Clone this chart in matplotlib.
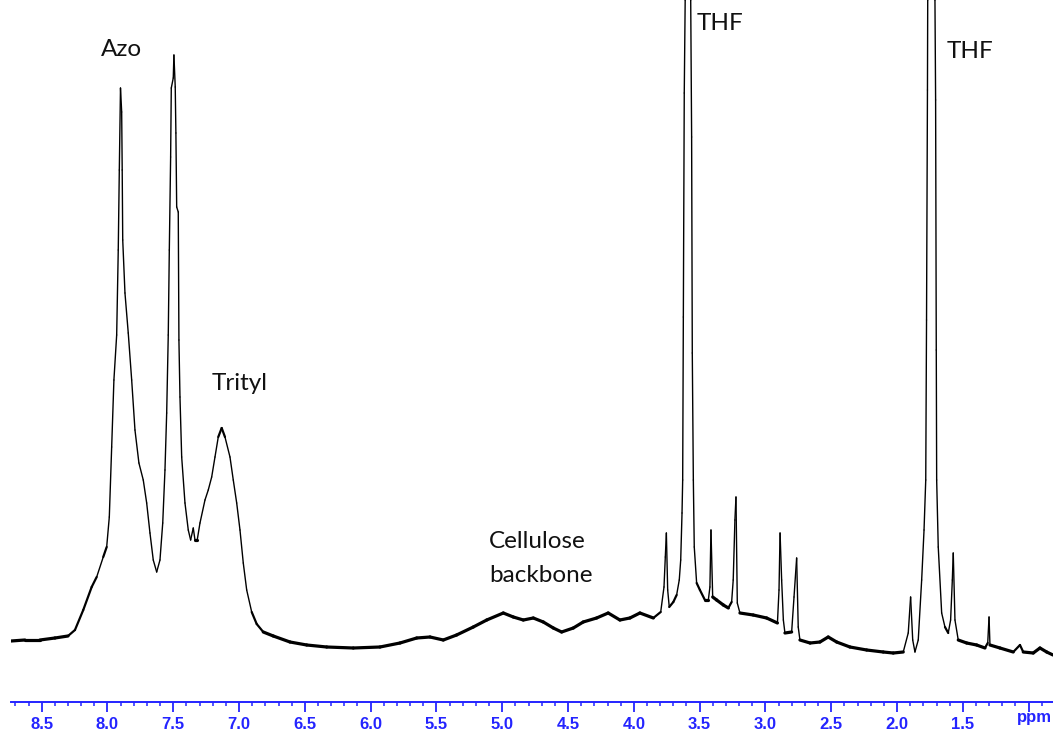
import matplotlib
matplotlib.use("Agg")
import numpy as np
import matplotlib.pyplot as plt
from matplotlib.collections import LineCollection
from matplotlib.ticker import MultipleLocator, FixedLocator, FuncFormatter

# 1H NMR spectrum: chemical shift (ppm) and signal intensity (a.u.)
shift_ppm = [
    8.733, 8.627, 8.513, 8.399, 8.300, 8.247, 8.184, 8.120, 8.082, 8.032,
    8.006, 7.986, 7.968, 7.951, 7.930, 7.918, 7.910, 7.901, 7.892, 7.888,
    7.884, 7.867, 7.842, 7.816, 7.791, 7.761, 7.728, 7.702, 7.677, 7.652,
    7.626, 7.601, 7.580, 7.563, 7.550, 7.538, 7.530, 7.520, 7.515, 7.500,
    7.495, 7.485, 7.480, 7.474, 7.462, 7.457, 7.449, 7.436, 7.411, 7.386,
    7.368, 7.348, 7.335, 7.318, 7.297, 7.259, 7.234, 7.208, 7.183, 7.158,
    7.132, 7.107, 7.069, 7.044, 7.018, 6.993, 6.968, 6.942, 6.904, 6.866,
    6.816, 6.740, 6.613, 6.486, 6.334, 6.132, 5.929, 5.777, 5.650, 5.549,
    5.448, 5.347, 5.220, 5.118, 4.992, 4.916, 4.840, 4.764, 4.688, 4.612,
    4.549, 4.460, 4.385, 4.283, 4.195, 4.106, 4.030, 3.954, 3.852, 3.796,
    3.771, 3.761, 3.753, 3.743, 3.731, 3.700, 3.675, 3.655, 3.644, 3.634,
    3.629, 3.624, 3.617, 3.610, 3.589, 3.568, 3.561, 3.556, 3.548, 3.541,
    3.523, 3.498, 3.460, 3.434, 3.422, 3.414, 3.401, 3.371, 3.320, 3.282,
    3.257, 3.245, 3.232, 3.224, 3.214, 3.194, 3.093, 2.991, 2.909, 2.897,
    2.889, 2.877, 2.864, 2.852, 2.801, 2.783, 2.763, 2.751, 2.738, 2.661,
    2.586, 2.523, 2.459, 2.358, 2.231, 2.105, 2.029, 1.953, 1.915, 1.897,
    1.881, 1.864, 1.839, 1.813, 1.795, 1.782, 1.776, 1.769, 1.767, 1.740,
    1.712, 1.707, 1.702, 1.699, 1.687, 1.661, 1.636, 1.611, 1.593, 1.580,
    1.573, 1.560, 1.535, 1.471, 1.395, 1.332, 1.311, 1.301, 1.294, 1.218,
    1.117, 1.066, 1.041, 0.965, 0.914, 0.863, 0.815,
]
intensity = [
    19, 20, 20, 22, 24, 30, 50, 73, 83, 103,
    113, 143, 213, 280, 325, 410, 490, 572, 548, 490,
    420, 367, 327, 280, 230, 197, 180, 157, 127, 100,
    88, 100, 137, 190, 247, 325, 410, 503, 572, 582,
    605, 573, 527, 453, 448, 320, 263, 203, 157, 130,
    120, 132, 120, 120, 137, 160, 170, 183, 203, 223,
    232, 223, 203, 180, 157, 130, 97, 70, 48, 36,
    28, 24, 18, 15, 13, 12, 13, 17, 22, 23,
    20, 25, 33, 40, 47, 43, 40, 42, 38, 32,
    28, 32, 38, 42, 47, 40, 42, 47, 42, 48,
    73, 103, 127, 70, 53, 58, 65, 80, 100, 147,
    180, 343, 567, 660, 1500, 660, 523, 307, 180, 113,
    77, 70, 60, 60, 73, 130, 63, 60, 55, 52,
    58, 80, 140, 163, 57, 47, 45, 42, 37, 70,
    127, 80, 40, 27, 28, 63, 102, 33, 20, 17,
    18, 23, 18, 13, 10, 8, 7, 8, 27, 63,
    20, 8, 20, 80, 130, 180, 340, 570, 660, 1500,
    660, 560, 310, 180, 113, 47, 33, 27, 40, 80,
    107, 40, 20, 17, 15, 12, 17, 43, 15, 12,
    8, 15, 8, 7, 12, 8, 5,
]

# Peak assignments
labels = ["Azo", "Trityl", "THF", "THF", "Cellulose", "backbone"]
label_ppm = [7.890, 6.993, 3.520, 1.621, 5.101, 5.101]
label_int = [610, 276, 637, 608, 119, 85]
label_ha = ["center", "center", "left", "left", "left", "left"]

major_ticks = [8.5, 8.0, 7.5, 7.0, 6.5, 6.0, 5.5, 5.0, 4.5, 4.0, 3.5, 3.0, 2.5, 2.0, 1.5, 1.0]

axis_blue = "#2424ff"
tick_font = ["Liberation Sans", "DejaVu Sans"]

fig = plt.figure(figsize=(10.53, 7.33), dpi=100)
ax = fig.add_axes([11 / 1053, 31 / 733, 1042 / 1053, 702 / 733])
ax.set_xlim(8.733, 0.815)
ax.set_ylim(-42, 660)

# Trace drawn segment by segment: flat stretches carry the baseline noise band,
# steep flanks of the resonances are drawn as a fine line.
x = np.asarray(shift_ppm, dtype=float)
y = np.asarray(intensity, dtype=float)
pts = np.column_stack([x, y])
segs = np.stack([pts[:-1], pts[1:]], axis=1)
px_per_ppm = 1042 / (8.733 - 0.815)
steep = np.abs(np.diff(y)) / (np.abs(np.diff(x)) * px_per_ppm + 1e-9)
widths = np.where(steep < 0.8, 2.3, np.where(steep < 3.0, 1.6, 1.0))
lc = LineCollection(segs, colors="black", linewidths=widths, capstyle="round",
                    joinstyle="round")
ax.add_collection(lc)

for side in ("top", "left", "right"):
    ax.spines[side].set_visible(False)
ax.spines["bottom"].set_color(axis_blue)
ax.spines["bottom"].set_linewidth(1.4)
ax.yaxis.set_visible(False)

ax.xaxis.set_major_locator(FixedLocator(major_ticks))
ax.xaxis.set_minor_locator(MultipleLocator(0.1))
ax.xaxis.set_major_formatter(
    FuncFormatter(lambda v, pos: "" if abs(v - 1.0) < 1e-6 else f"{v:.1f}"))
ax.tick_params(axis="x", which="major", length=7.5, width=1.3, color=axis_blue,
               labelcolor=axis_blue, pad=3.0, labelsize=12)
ax.tick_params(axis="x", which="minor", length=3.2, width=1.1, color=axis_blue)
for lbl in ax.get_xticklabels():
    lbl.set_fontfamily(tick_font)
    lbl.set_fontweight("bold")

ax.text(0.955, -0.0115, "ppm", transform=ax.get_xaxis_transform(), ha="center",
        va="top", color=axis_blue, fontsize=12, fontweight="bold", family=tick_font)

for txt, xp, yi, ha in zip(labels, label_ppm, label_int, label_ha):
    ax.text(xp, yi, txt, ha=ha, va="center", fontsize=17.5, color="#111111",
            family=["Lato", "DejaVu Sans"])

fig.savefig("out.png", dpi=100)
